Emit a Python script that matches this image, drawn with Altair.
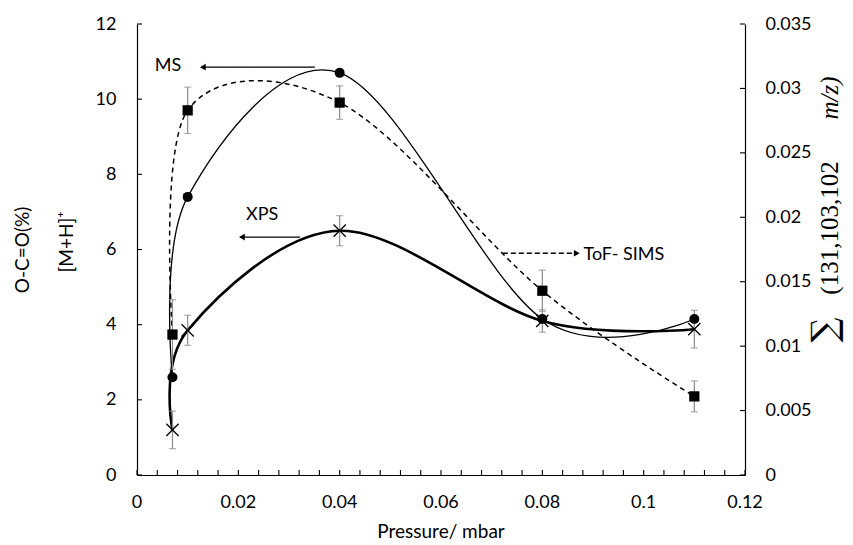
import altair as alt
import pandas as pd

# ---- data ----
pressure = [0.007, 0.01, 0.04, 0.08, 0.11]
ms_vals = [2.6, 7.4, 10.7, 4.15, 4.15]
xps_vals = [1.2, 3.85, 6.5, 4.1, 3.88]
xps_err = [0.5, 0.4, 0.4, 0.3, 0.5]
tof_vals = [0.0109, 0.0283, 0.0289, 0.0143, 0.0061]
tof_err = [0.0027, 0.0018, 0.0013, 0.0016, 0.0012]

x_major = [0, 0.02, 0.04, 0.06, 0.08, 0.1, 0.12]
x_labels = ["0", "0.02", "0.04", "0.06", "0.08", "0.1", "0.12"]
x_minor = [0, 0.004, 0.008, 0.012, 0.016, 0.02, 0.024, 0.028, 0.032, 0.036,
           0.04, 0.044, 0.048, 0.052, 0.056, 0.06, 0.064, 0.068, 0.072, 0.076,
           0.08, 0.084, 0.088, 0.092, 0.096, 0.1, 0.104, 0.108, 0.112, 0.116, 0.12]
left_ticks = [0, 2, 4, 6, 8, 10, 12]
right_ticks = [0, 0.005, 0.01, 0.015, 0.02, 0.025, 0.03, 0.035]

note_text = ["MS", "XPS", "ToF- SIMS"]
note_x = [0.0061, 0.0247, 0.0961]
note_y = [10.88, 6.91, 5.85]
arrow_from = [0.0351, 0.0322, 0.0722]
arrow_to = [0.0130, 0.0207, 0.0868]
arrow_y = [10.85, 6.33, 5.9]
arrow_dir = ["left", "left", "right"]
arrow_style = ["solid", "solid", "dash"]

left_title_1 = "O-C=O(%)"
left_title_2 = "[M+H]\u207a"
right_sum = "\u2211"
right_title_a = "(131,103,102"
right_title_b = "m/z)"
x_title = "Pressure/ mbar"

# ---- tables ----
df = pd.DataFrame({
    "p": pressure,
    "ms": ms_vals,
    "xps": xps_vals,
    "xps_lo": [v - e for v, e in zip(xps_vals, xps_err)],
    "xps_hi": [v + e for v, e in zip(xps_vals, xps_err)],
    "tof": tof_vals,
    "tof_lo": [v - e for v, e in zip(tof_vals, tof_err)],
    "tof_hi": [v + e for v, e in zip(tof_vals, tof_err)],
})
notes = pd.DataFrame({"t": note_text, "x": note_x, "y": note_y})
arrows = pd.DataFrame({"x1": arrow_from, "x2": arrow_to, "y": arrow_y,
                       "dir": arrow_dir, "style": arrow_style})
xt = pd.DataFrame({"v": x_minor})
xl = pd.DataFrame({"v": x_major, "s": x_labels})
lt = pd.DataFrame({"v": left_ticks})
rt = pd.DataFrame({"v": right_ticks})

W, H = 608, 451
FONT = "Lato"
ERR = "#8a8a8a"
TICK = 5

xscale = alt.Scale(domain=[0, 0.12], nice=False, zero=False)
lscale = alt.Scale(domain=[0, 12], nice=False)
rscale = alt.Scale(domain=[0, 0.035], nice=False)

x_axis = alt.Axis(
    values=x_major, labels=False, ticks=False, domain=True, domainColor="black",
    domainWidth=1.2, title=None, grid=False, orient="bottom")
x_main = alt.X("p:Q", scale=xscale, axis=x_axis)
x_none = alt.X("p:Q", scale=xscale, axis=None)

yl_axis = alt.Axis(values=left_ticks, format="d", ticks=False, domain=True,
                   domainColor="black", domainWidth=1.2, labelPadding=21,
                   title=None, grid=False, orient="left", labelFlush=False,
                   labelOverlap=False)
yr_axis = alt.Axis(values=right_ticks, format=".3~g", ticks=False, domain=True,
                   domainColor="black", domainWidth=1.2, labelPadding=20,
                   title=None, grid=False, orient="right", labelFlush=False,
                   labelOverlap=False)

base = alt.Chart(df)

# ---- left-axis group: MS and XPS ----
ms_line = base.mark_line(interpolate="cardinal", color="black", strokeWidth=1.3).encode(
    x=x_main, y=alt.Y("ms:Q", scale=lscale, axis=yl_axis))
xps_line = base.mark_line(interpolate="cardinal", color="black", strokeWidth=2.6).encode(
    x=x_main, y=alt.Y("xps:Q", scale=lscale, axis=yl_axis))
xps_bar = base.mark_rule(color=ERR, strokeWidth=1.2).encode(
    x=x_main, y=alt.Y("xps_lo:Q", scale=lscale, axis=yl_axis), y2="xps_hi:Q")
xps_cap_lo = base.mark_tick(orient="horizontal", color=ERR, size=7, thickness=1.2).encode(
    x=x_main, y=alt.Y("xps_lo:Q", scale=lscale, axis=yl_axis))
xps_cap_hi = base.mark_tick(orient="horizontal", color=ERR, size=7, thickness=1.2).encode(
    x=x_main, y=alt.Y("xps_hi:Q", scale=lscale, axis=yl_axis))
ms_pts = base.mark_point(shape="circle", filled=True, color="black", size=100, opacity=1).encode(
    x=x_main, y=alt.Y("ms:Q", scale=lscale, axis=yl_axis))
xps_pts = base.mark_point(shape="M-1,-1L1,1M-1,1L1,-1", filled=False, color="black",
                          size=150, strokeWidth=1.3, opacity=1).encode(
    x=x_main, y=alt.Y("xps:Q", scale=lscale, axis=yl_axis))

note_marks = alt.Chart(notes).mark_text(font=FONT, fontSize=18, color="black").encode(
    x=alt.X("x:Q", scale=xscale, axis=x_axis), y=alt.Y("y:Q", scale=lscale, axis=yl_axis),
    text="t:N")
arrow_lines = alt.Chart(arrows).mark_rule(color="black", strokeWidth=1.3).encode(
    x=alt.X("x1:Q", scale=xscale, axis=x_axis), x2="x2:Q",
    y=alt.Y("y:Q", scale=lscale, axis=yl_axis),
    strokeDash=alt.StrokeDash("style:N", scale=alt.Scale(domain=["solid", "dash"],
                              range=[[1, 0], [5, 3]]), legend=None))
arrow_heads = alt.Chart(arrows).mark_point(filled=True, color="black", size=45, opacity=1).encode(
    x=alt.X("x2:Q", scale=xscale, axis=x_axis), y=alt.Y("y:Q", scale=lscale, axis=yl_axis),
    shape=alt.Shape("dir:N", scale=alt.Scale(domain=["left", "right"],
                    range=["triangle-left", "triangle-right"]), legend=None))

left_group = alt.layer(ms_line, xps_line, xps_bar, xps_cap_lo, xps_cap_hi,
                       ms_pts, xps_pts, arrow_lines, arrow_heads, note_marks)

# ---- right-axis group: ToF-SIMS ----
tof_line = base.mark_line(interpolate="cardinal", color="black", strokeWidth=1.5,
                          strokeDash=[5, 4]).encode(
    x=x_none, y=alt.Y("tof:Q", scale=rscale, axis=yr_axis))
tof_bar = base.mark_rule(color=ERR, strokeWidth=1.2).encode(
    x=x_none, y=alt.Y("tof_lo:Q", scale=rscale, axis=yr_axis), y2="tof_hi:Q")
tof_cap_lo = base.mark_tick(orient="horizontal", color=ERR, size=7, thickness=1.2).encode(
    x=x_none, y=alt.Y("tof_lo:Q", scale=rscale, axis=yr_axis))
tof_cap_hi = base.mark_tick(orient="horizontal", color=ERR, size=7, thickness=1.2).encode(
    x=x_none, y=alt.Y("tof_hi:Q", scale=rscale, axis=yr_axis))
tof_pts = base.mark_point(shape="square", filled=True, color="black", size=105, opacity=1).encode(
    x=x_none, y=alt.Y("tof:Q", scale=rscale, axis=yr_axis))
right_group = alt.layer(tof_line, tof_bar, tof_cap_lo, tof_cap_hi, tof_pts)

# ---- inward tick marks and x labels drawn from the tick value lists ----
xticks = alt.Chart(xt).mark_rule(color="black", strokeWidth=1.1).encode(
    x=alt.X("v:Q", scale=xscale, axis=None), y=alt.value(H - TICK), y2=alt.value(H))
xlabels = alt.Chart(xl).mark_text(font=FONT, fontSize=18, color="black",
                                  baseline="middle", align="center").encode(
    x=alt.X("v:Q", scale=xscale, axis=None), y=alt.value(H + 28), text="s:N")
lticks = alt.Chart(lt).mark_rule(color="black", strokeWidth=1.1).encode(
    y=alt.Y("v:Q", scale=lscale, axis=None), x=alt.value(0), x2=alt.value(TICK))
rticks = alt.Chart(rt).mark_rule(color="black", strokeWidth=1.1).encode(
    y=alt.Y("v:Q", scale=rscale, axis=None), x=alt.value(W - TICK), x2=alt.value(W))

# ---- axis titles drawn as text ----
def label(text, px, py, size, font=FONT, style="normal", angle=270):
    return alt.Chart(pd.DataFrame({"t": [text]})).mark_text(
        font=font, fontSize=size, angle=angle, align="center", baseline="middle",
        color="black", fontStyle=style).encode(
        x=alt.value(px), y=alt.value(py), text="t:N")

t0 = label(x_title, W / 2, H + 57, 19, angle=0)
t1 = label(left_title_1, -114, 226, 19)
t2 = label(left_title_2, -70, 218, 19)
t3 = label(right_sum, 688, 306, 35, font="DejaVu Serif")
t4 = label(right_title_a, 693, 204, 25, font="Liberation Serif")
t5 = label(right_title_b, 693, 74, 25, font="Liberation Serif", style="italic")

chart = alt.layer(
    left_group, right_group, xticks, xlabels, lticks, rticks, t0, t1, t2, t3, t4, t5
).resolve_scale(y="independent").resolve_axis(x="independent", y="independent").properties(
    width=W, height=H,
    padding={"left": 129, "top": 16, "right": 100, "bottom": 70},
    autosize=alt.AutoSizeParams(type="none"),
    background="white",
).configure_view(stroke=None).configure_axis(
    labelFont=FONT, labelFontSize=18, labelColor="black",
    titleFont=FONT, titleFontSize=19, titleColor="black", titleFontWeight="normal",
)

chart.save("out.html", embed_options={"renderer": "svg", "actions": False})
